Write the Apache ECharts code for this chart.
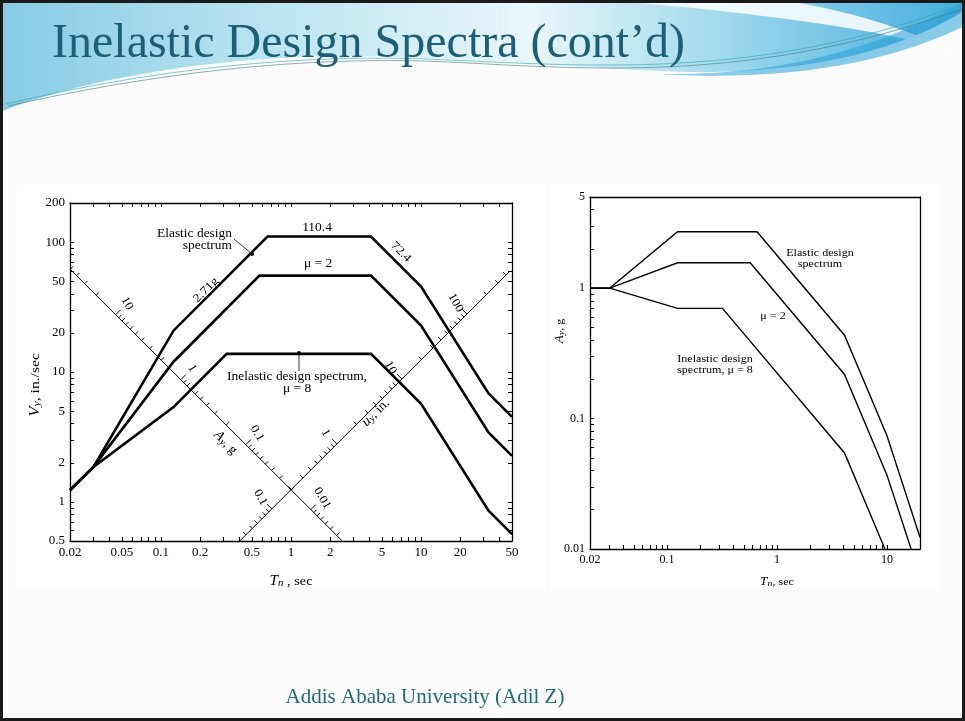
<!DOCTYPE html>
<html><head><meta charset="utf-8">
<script src="https://cdn.jsdelivr.net/npm/echarts@6/dist/echarts.min.js"></script>
<style>html,body{margin:0;padding:0;background:#fff}#c{width:965px;height:721px}</style>
</head><body><div id="c"></div><script>
// ---------------- data ----------------
const leftXLabels = [0.02, 0.05, 0.1, 0.2, 0.5, 1, 2, 5, 10, 20, 50];
const leftYLabels = [0.5, 1, 2, 5, 10, 20, 50, 100, 200];
const rightXLabels = [0.02, 0.1, 1, 10];
const rightYLabels = [0.01, 0.1, 1, 5];

// Left (tripartite) chart: pseudo-velocity Vy (in/sec) vs Tn (sec)
const elasticT = [0.02, 0.0303, 0.125, 0.66, 4.12, 10, 33, 50];
const elasticV = [1.23, 1.86, 20.8, 110.4, 110.4, 45.5, 6.85, 4.52];
const mu2T = [0.02, 0.0303, 0.125, 0.572, 4.12, 10, 33, 50];
const mu2V = [1.23, 1.86, 12.0, 55.2, 55.2, 22.75, 3.43, 2.26];
const mu8T = [0.02, 0.0303, 0.125, 0.32, 4.12, 10, 33, 50];
const mu8V = [1.23, 1.86, 5.37, 13.8, 13.8, 5.69, 0.856, 0.565];

// Right chart: Ay (g) vs Tn (sec)
const elasticAT = [0.02, 0.0303, 0.125, 0.66, 4.12, 10, 20];
const elasticA = [1, 1, 2.71, 2.71, 0.436, 0.0741, 0.0123];
const mu2AT = [0.02, 0.0303, 0.125, 0.572, 4.12, 10, 16.6];
const mu2A = [1, 1, 1.565, 1.565, 0.218, 0.037, 0.01];
const mu8AT = [0.02, 0.0303, 0.125, 0.32, 4.12, 9.6];
const mu8A = [1, 1, 0.70, 0.70, 0.0545, 0.01];

// Diagonal scales of the tripartite plot
const aScaleMajor = [10, 1, 0.1, 0.01];
const aScaleLabels = ['10', '1', '0.1', '0.01'];
const dScaleMajor = [0.1, 1, 10, 100];
const dScaleLabels = ['0.1', '1', '10', '100'];
const aLineT = [0.02, 2.48];   // extent of the A-scale line (Tn)
const dLineT = [0.403, 48];    // extent of the D-scale line (Tn)
const aLineC = 1.24;           // V*T along the A line
const dLineK = 1.24;           // V/T along the D line
const G = 386.1;               // in/s^2

// ---------------- helpers ----------------
const SERIF = '"Liberation Serif","Times New Roman",serif';
function logTicks(min, max) {
  const out = [];
  for (let k = Math.floor(Math.log10(min)) - 1; k <= Math.ceil(Math.log10(max)); k++) {
    for (let m = 1; m <= 9; m++) {
      const v = +(m * Math.pow(10, k)).toPrecision(6);
      if (v >= min * 0.9999 && v <= max * 1.0001) out.push(v);
    }
  }
  return out;
}
const pairs = (xs, ys) => xs.map((x, i) => [x, ys[i]]);
const fmt = v => String(+(+v).toPrecision(6));
const tForA = a => Math.sqrt(2 * Math.PI * aLineC / (G * a));
const tForD = d => Math.sqrt(2 * Math.PI * d / dLineK);

const tickStyle = { color: '#000', width: 1 };
function logAxis(grid, min, max, pos, labels, showLabel, fontSize, showTicks) {
  return {
    gridIndex: grid, type: 'log', logBase: 10, min: min, max: max, position: pos,
    axisLine: { show: true, lineStyle: { color: '#000', width: 1.3 } },
    axisTick: { show: showTicks, inside: true, length: 4, customValues: logTicks(min, max), lineStyle: tickStyle },
    axisLabel: { show: showLabel, customValues: labels, formatter: fmt, color: '#000',
      fontFamily: SERIF, fontSize: fontSize, margin: 5 },
    splitLine: { show: false }, minorTick: { show: false }
  };
}

function renderDiag(params, api) {
  const ch = [];
  const axes = [
    { tEnds: aLineT, v: t => aLineC / t, tOf: tForA, majors: aScaleMajor, labels: aScaleLabels, range: [0.004, 60], rot: -Math.PI / 3 },
    { tEnds: dLineT, v: t => dLineK * t, tOf: tForD, majors: dScaleMajor, labels: dScaleLabels, range: [0.03, 500], rot: -Math.PI / 3 }
  ];
  axes.forEach(ax => {
    const p0 = api.coord([ax.tEnds[0], ax.v(ax.tEnds[0])]);
    const p1 = api.coord([ax.tEnds[1], ax.v(ax.tEnds[1])]);
    ch.push({ type: 'line', shape: { x1: p0[0], y1: p0[1], x2: p1[0], y2: p1[1] }, style: { stroke: '#000', lineWidth: 1 } });
    let ux = p1[0] - p0[0], uy = p1[1] - p0[1];
    const L = Math.hypot(ux, uy); ux /= L; uy /= L;
    const nx = uy, ny = -ux;
    logTicks(ax.range[0], ax.range[1]).forEach(val => {
      const t = ax.tOf(val);
      if (t < ax.tEnds[0] || t > ax.tEnds[1]) return;
      const p = api.coord([t, ax.v(t)]);
      const major = ax.majors.some(m => Math.abs(m - val) / m < 1e-6);
      const len = major ? 7 : 4;
      ch.push({ type: 'line', shape: { x1: p[0], y1: p[1], x2: p[0] + nx * len, y2: p[1] + ny * len }, style: { stroke: '#000', lineWidth: 1 } });
    });
    ax.majors.forEach((m, i) => {
      const t = ax.tOf(m);
      const p = api.coord([t, ax.v(t)]);
      ch.push({ type: 'text', x: p[0] + nx * 16, y: p[1] + ny * 16, rotation: ax.rot, scaleX: 1.1,
        style: { text: ax.labels[i], font: '12px ' + SERIF, fill: '#000', align: 'center', verticalAlign: 'middle' } });
    });
  });
  return { type: 'group', children: ch };
}

function renderDeco() {
  return { type: 'group', children: [
    { type: 'path', shape: { pathData: 'M0,0 L965,0 L965,10 C900,52 800,74 690,72 C560,69 430,52 300,57 C180,62 70,84 0,112 Z' },
      style: { fill: { type: 'linear', x: 0, y: 0, x2: 1, y2: 0, global: false, colorStops: [
        { offset: 0, color: '#86cbe4' }, { offset: 0.3, color: '#bfe6f2' }, { offset: 0.55, color: '#e9f7fb' },
        { offset: 0.75, color: '#9fd9ec' }, { offset: 1, color: '#45aee0' }] } } },
    { type: 'path', shape: { pathData: 'M600,0 L780,0 C850,10 900,28 960,52 C880,30 760,12 600,0 Z' },
      style: { fill: 'rgba(255,255,255,0.85)' } },
    { type: 'path', shape: { pathData: 'M660,74 C790,76 880,45 965,2 L965,26 C890,62 790,82 660,74 Z' },
      style: { fill: 'rgba(40,160,215,0.55)' } },
    { type: 'path', shape: { pathData: 'M8,106 C150,74 300,55 450,62 C600,70 760,82 965,8' },
      style: { fill: 'none', stroke: 'rgba(70,120,130,0.6)', lineWidth: 1 } },
    { type: 'path', shape: { pathData: 'M6,104 C150,70 300,52 450,60 C600,67 770,78 962,4' },
      style: { fill: 'none', stroke: 'rgba(40,170,160,0.6)', lineWidth: 1 } },
    { type: 'rect', shape: { x: 17, y: 185, width: 528, height: 403 }, style: { fill: '#fff' } },
    { type: 'rect', shape: { x: 550, y: 185, width: 390, height: 403 }, style: { fill: '#fff' } }
  ] };
}

function txt(x, y, text, opts) {
  opts = opts || {};
  return { type: 'text', x: x, y: y, rotation: opts.rot || 0, scaleX: opts.sx || 1, z: 50,
    style: { text: text, fontSize: opts.size || 12, fontFamily: SERIF, fill: opts.fill || '#000',
      align: opts.align || 'center', verticalAlign: 'middle', rich: opts.rich, lineHeight: opts.lh } };
}
function richSub(big, small, norm) {
  return {
    i: { fontStyle: 'italic', fontSize: big, fontFamily: SERIF, lineHeight: 18, verticalAlign: 'bottom' },
    s: { fontStyle: 'italic', fontSize: small, fontFamily: SERIF, lineHeight: 15, verticalAlign: 'bottom' },
    n: { fontSize: norm, fontFamily: SERIF, lineHeight: 18, verticalAlign: 'bottom' }
  };
}
const subL = richSub(14, 10, 13);
const subR = richSub(12, 9, 11);

const lineS = (w) => ({ color: '#000', width: w, join: 'miter' });

const option = {
  backgroundColor: '#fcfcfc',
  animation: false,
  grid: [
    { left: 70, top: 203, width: 442, height: 338 },
    { left: 590, top: 197, width: 330, height: 352 }
  ],
  xAxis: [
    logAxis(0, 0.02, 50, 'bottom', leftXLabels, true, 13, true),
    logAxis(0, 0.02, 50, 'top', leftXLabels, false, 13, true),
    logAxis(1, 0.02, 20, 'bottom', rightXLabels, true, 12, true),
    logAxis(1, 0.02, 20, 'top', rightXLabels, false, 12, false)
  ],
  yAxis: [
    logAxis(0, 0.5, 200, 'left', leftYLabels, true, 13, true),
    logAxis(0, 0.5, 200, 'right', leftYLabels, false, 13, true),
    logAxis(1, 0.01, 5, 'left', rightYLabels, true, 12, true),
    logAxis(1, 0.01, 5, 'right', rightYLabels, false, 12, false)
  ],
  series: [
    { type: 'custom', coordinateSystem: 'none', data: [0], renderItem: renderDeco, z: -10, silent: true },
    { type: 'line', xAxisIndex: 0, yAxisIndex: 0, data: pairs(elasticT, elasticV), symbol: 'none', lineStyle: lineS(2.6), z: 5 },
    { type: 'line', xAxisIndex: 0, yAxisIndex: 0, data: pairs(mu2T, mu2V), symbol: 'none', lineStyle: lineS(2.6), z: 5 },
    { type: 'line', xAxisIndex: 0, yAxisIndex: 0, data: pairs(mu8T, mu8V), symbol: 'none', lineStyle: lineS(2.6), z: 5 },
    { type: 'custom', xAxisIndex: 0, yAxisIndex: 0, coordinateSystem: 'cartesian2d', data: [[1, 1]], renderItem: renderDiag, clip: false, z: 4, silent: true },
    { type: 'line', xAxisIndex: 2, yAxisIndex: 2, data: pairs(elasticAT, elasticA), symbol: 'none', lineStyle: lineS(1.4), z: 5 },
    { type: 'line', xAxisIndex: 2, yAxisIndex: 2, data: pairs(mu2AT, mu2A), symbol: 'none', lineStyle: lineS(1.4), z: 5 },
    { type: 'line', xAxisIndex: 2, yAxisIndex: 2, data: pairs(mu8AT, mu8A), symbol: 'none', lineStyle: lineS(1.4), z: 5 }
  ],
  graphic: [
    { type: 'rect', z: 60, shape: { x: 1.5, y: 1.5, width: 962, height: 718 }, style: { fill: null, stroke: '#1a1a1a', lineWidth: 3 } },
    txt(52, 44, 'Inelastic Design Spectra (cont\u2019d)', { size: 48, fill: '#1d5f76', align: 'left' }),
    txt(425, 697, 'Addis Ababa University (Adil Z)', { size: 21, fill: '#1e6b80' }),
    { type: 'text', x: 232, y: 240, scaleX: 1.12, z: 50, style: { text: 'Elastic design\nspectrum', font: '12px ' + SERIF, fill: '#000', align: 'right', verticalAlign: 'middle', lineHeight: 12 } },
    { type: 'line', z: 50, shape: { x1: 234, y1: 239, x2: 252, y2: 254 }, style: { stroke: '#000', lineWidth: 0.8 } },
    { type: 'circle', z: 50, shape: { cx: 252, cy: 254, r: 2 }, style: { fill: '#000' } },
    txt(206, 290, '2.71g', { rot: Math.PI / 4, sx: 1.12 }),
    txt(317, 228, '110.4', { sx: 1.12 }),
    txt(401, 252, '72.4', { rot: -Math.PI / 4, sx: 1.12 }),
    txt(318, 264, '\u03bc = 2', { sx: 1.12 }),
    { type: 'text', x: 297, y: 383, scaleX: 1.12, z: 50, style: { text: 'Inelastic design spectrum,\n\u03bc = 8', font: '12px ' + SERIF, fill: '#000', align: 'center', verticalAlign: 'middle', lineHeight: 12 } },
    { type: 'line', z: 50, shape: { x1: 299, y1: 371, x2: 299, y2: 353 }, style: { stroke: '#000', lineWidth: 0.8 } },
    { type: 'circle', z: 50, shape: { cx: 299, cy: 353, r: 2 }, style: { fill: '#000' } },
    txt(227, 441, '{i|A}{s|y}{n|, g}', { rot: -Math.PI / 4, rich: subL, sx: 1.05 }),
    txt(374, 411, '{i|u}{s|y}{n|, in.}', { rot: Math.PI / 4, rich: subL, sx: 1.05 }),
    txt(33, 385, '{i|V}{s|y}{n|, in./sec}', { rot: Math.PI / 2, rich: subL, sx: 1.2 }),
    txt(291, 579, '{i|T}{s|n}{n| , sec}', { rich: subL, sx: 1.1 }),
    { type: 'text', x: 820, y: 259, scaleX: 1.1, z: 50, style: { text: 'Elastic design\nspectrum', font: '11px ' + SERIF, fill: '#000', align: 'center', verticalAlign: 'middle', lineHeight: 11 } },
    txt(773, 316, '\u03bc = 2', { size: 11, sx: 1.1 }),
    { type: 'text', x: 715, y: 365, scaleX: 1.1, z: 50, style: { text: 'Inelastic design\nspectrum, \u03bc = 8', font: '11px ' + SERIF, fill: '#000', align: 'center', verticalAlign: 'middle', lineHeight: 11 } },
    txt(557, 331, '{i|A}{s|y}{n|, g}', { rot: Math.PI / 2, rich: subR, sx: 1.1 }),
    txt(777, 579, '{i|T}{s|n}{n|, sec}', { rich: subR, sx: 1.1 })
  ]
};

const chart = echarts.init(document.getElementById('c'), null, { renderer: 'canvas' });
chart.setOption(option);
</script></body></html>
